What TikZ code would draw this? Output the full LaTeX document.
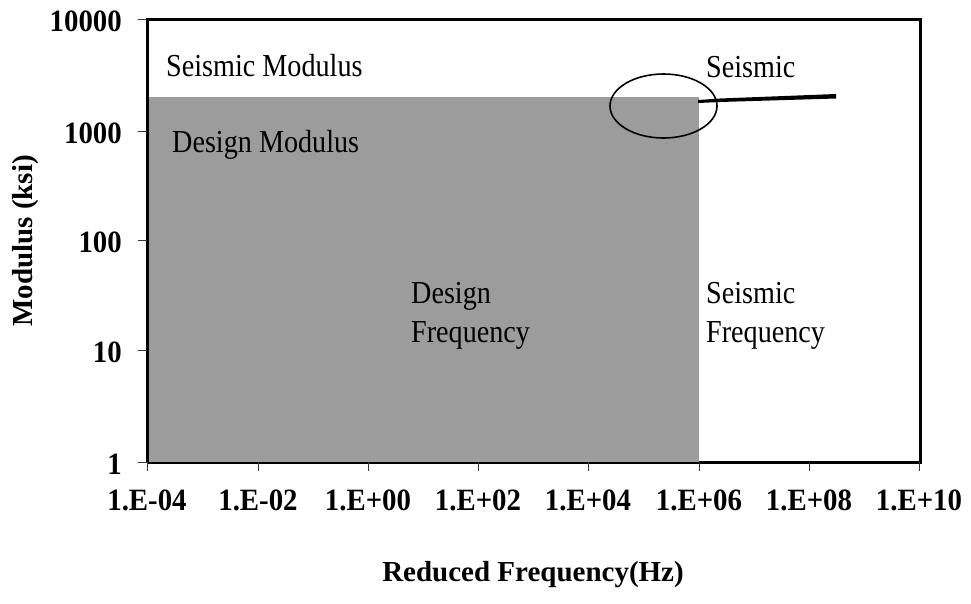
\documentclass[tikz,border=0pt]{standalone}
\usepackage{graphicx}
\usepackage{fontspec}
\setmainfont{Liberation Serif}
\definecolor{bandgray}{RGB}{156,156,156}
% horizontally condensed text
\newcommand{\cnd}[2]{\scalebox{#1}[1]{#2}}
\begin{document}
\begin{tikzpicture}[x=1pt,y=-1pt,
  ticklbl/.style={font=\fontsize{31}{31}\selectfont\bfseries, inner sep=0pt},
  axtitle/.style={font=\fontsize{29}{29}\selectfont\bfseries, inner sep=0pt},
  zonelbl/.style={font=\fontsize{32}{32}\selectfont, inner sep=0pt, anchor=base west},
  tickline/.style={line width=0.8pt, black!80},
  frameline/.style={line width=3pt, black}]
\useasboundingbox (0,0) rectangle (971,603);

% plot frame corners
\coordinate (tl) at (147,19);
\coordinate (tr) at (920,19);
\coordinate (bl) at (147,462);
\coordinate (br) at (920,462);

% frame
\draw[frameline] (bl) -- (tl) -- (tr) -- (br) -- (bl);

% design region (shaded)
\fill[bandgray] (149,97) rectangle (699,462);

% y ticks and labels
\foreach \yy/\lab in {19/10000,131/1000,240/100,350/10,462/1}{
  \draw[tickline] (138,\yy) -- (147,\yy);
  \node[ticklbl, anchor=base east] at (122,\yy+12) {\cnd{0.93}{\lab}};
}
% x ticks and labels
\foreach \xx/\lab in {147/1.E-04,258/1.E-02,368/1.E+00,478/1.E+02,588/1.E+04,699/1.E+06,809/1.E+08,919/1.E+10}{
  \draw[tickline] (\xx,462) -- (\xx,471);
  \node[ticklbl, anchor=base] at (\xx,510) {\cnd{0.93}{\lab}};
}

% axis titles
\node[axtitle, rotate=90] (ytitle) at (26,241) {Modulus (ksi)};
\node[axtitle, anchor=base] (xtitle) at (533,581) {Reduced Frequency(Hz)};

% zone labels
\node[zonelbl] (sm) at (166,76) {\cnd{0.88}{Seismic Modulus}};
\node[zonelbl] (dm) at (172,152) {\cnd{0.88}{Design Modulus}};
\node[zonelbl] (sl) at (706,77) {\cnd{0.88}{Seismic}};
\node[zonelbl] (df1) at (411,303) {\cnd{0.88}{Design}};
\node[zonelbl] (df2) at (411,342) {\cnd{0.88}{Frequency}};
\node[zonelbl] (sf1) at (706,303) {\cnd{0.88}{Seismic}};
\node[zonelbl] (sf2) at (706,342) {\cnd{0.88}{Frequency}};

% seismic modulus trace (tapered)
\fill[black] (698,100) -- (720,98.5) -- (836,94) -- (836,98.5) -- (720,102) -- (698,103) -- cycle;

% highlight ellipse
\draw[line width=1.6pt] (663.5,106) ellipse [x radius=53.5, y radius=32];
\end{tikzpicture}
\end{document}
